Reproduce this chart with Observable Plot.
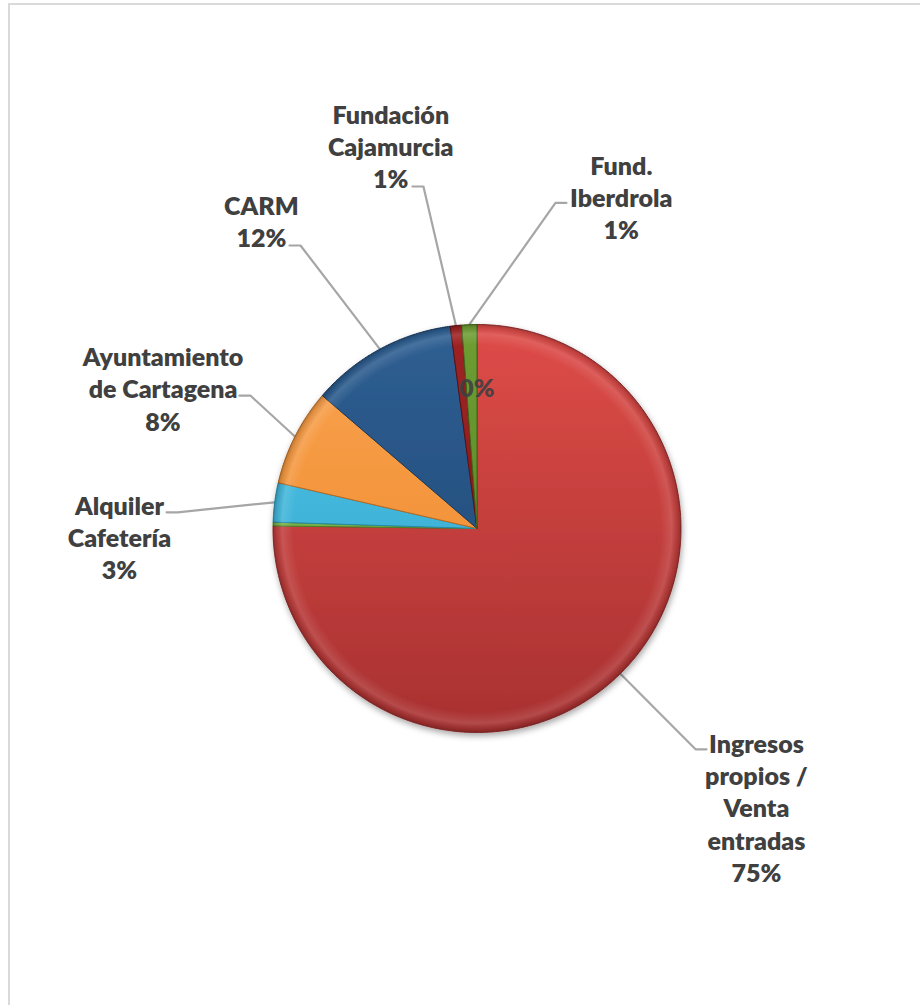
<!DOCTYPE html>
<html><head><meta charset="utf-8">
<script src="https://cdn.jsdelivr.net/npm/d3@7"></script>
<script src="https://cdn.jsdelivr.net/npm/@observablehq/plot@0.6"></script>
<style>
html,body{margin:0;padding:0;background:#fff;overflow:hidden;width:920px;height:1005px}
#frame{position:absolute;left:8px;top:3px;width:1000px;height:1100px;border:2px solid #dadada;box-sizing:border-box}
#chart{position:absolute;left:0;top:0}
</style></head><body><div id="frame"></div><div id="chart"></div>
<script>
// ---- data (clockwise from 12 o'clock) ----
const categories = ["Ingresos propios / Venta entradas", "", "Alquiler Cafetería", "Ayuntamiento de Cartagena", "CARM", "Fundación Cajamurcia", "Fund. Iberdrola"];
const labelText = ["Ingresos\npropios /\nVenta\nentradas", "", "Alquiler\nCafetería", "Ayuntamiento\nde Cartagena", "CARM", "Fundación\nCajamurcia", "Fund.\nIberdrola"];
const shares = [75.2, 0.3, 3.1, 7.7, 11.6, 0.9, 1.2];

// ---- style / layout (not data) ----
const topColors = ["#de4c48", "#8cc65a", "#52c6ea", "#fba451", "#2f5f93", "#9e2424", "#6f9e34"];
const bottomColors = ["#a83131", "#5f9a33", "#2ea2c6", "#e98424", "#1b446f", "#7a1414", "#4f7a1e"];
const edgeColors = ["#8f2a2a", "#4d7d28", "#2689a8", "#b9691f", "#173a60", "#5e1010", "#3f6418"];
// label centre and leader elbow in polar form: [angle° clockwise from north, distance in radii]
const labelPolar = [[134.9, 1.934], [0, 0.686], [268.7, 1.753], [294.1, 1.686], [325.0, 1.843], [347.3, 1.923], [23.5, 1.774]];
const elbowPolar = [[135.3, 1.523], null, [273.1, 1.470], [300.4, 1.288], [328.05, 1.635], [351.1, 1.697], [13.55, 1.642]];
const tailSide = [1, 0, -1, -1, -1, -1, 1];

const W = 920, H = 1005, CX = 476.5, CY = 528, R = 204;

const total = d3.sum(shares);
const rad = a => a * Math.PI / 180;
const polar = (a, r) => ({x: r * Math.sin(rad(a)), y: r * Math.cos(rad(a))});

// slice polygons
const slicePts = [];
const mids = [];
let acc = 0;
shares.forEach((v, i) => {
  const a0 = acc / total * 360, a1 = (acc + v) / total * 360;
  acc += v;
  mids.push((a0 + a1) / 2);
  const n = Math.max(2, Math.ceil((a1 - a0) / 0.5));
  slicePts.push({i, ...polar(0, 0), fill: `url(#g${i})`, stroke: edgeColors[i]});
  for (let k = 0; k <= n; k++) slicePts.push({i, ...polar(a0 + (a1 - a0) * k / n, 1), fill: `url(#g${i})`, stroke: edgeColors[i]});
  slicePts.push({i, ...polar(0, 0), fill: `url(#g${i})`, stroke: edgeColors[i]});
});

// labels
const labels = shares.map((v, i) => {
  const pct = Math.round(v / total * 100) + "%";
  const p = polar(labelPolar[i][0], labelPolar[i][1]);
  return {i, x: p.x, y: p.y, text: labelText[i] ? labelText[i] + "\n" + pct : pct, inner: !labelText[i]};
});

// leaders
const leaderPts = [];
shares.forEach((v, i) => {
  if (!elbowPolar[i]) return;
  const rim = polar(mids[i], 1.0);
  const e = polar(elbowPolar[i][0], elbowPolar[i][1]);
  leaderPts.push({i, ...rim}, {i, ...e}, {i, x: e.x + tailSide[i] * 11 / R, y: e.y});
});

const font = "Lato, 'Open Sans', sans-serif";
const chart = Plot.plot({
  width: W, height: H,
  margin: 0,
  x: {domain: [-CX / R, (W - CX) / R], axis: null},
  y: {domain: [-(H - CY) / R, CY / R], axis: null},
  color: {type: "identity"},
  marks: [
    Plot.line(leaderPts, {x: "x", y: "y", z: "i", stroke: "#a6a6a6", strokeWidth: 2.2, curve: "linear"}),
    Plot.line(slicePts, {x: "x", y: "y", z: "i", fill: "fill", stroke: "stroke", strokeWidth: 1, strokeLinejoin: "round", curve: "linear"}),
    Plot.line(slicePts, {x: "x", y: "y", z: "i", fill: "url(#bevel)", stroke: "none", curve: "linear"}),
    Plot.text(labels.filter(d => !d.inner), {x: "x", y: "y", text: "text", fontSize: 25, fontWeight: 800, fontFamily: font, fill: "#404040", lineHeight: 1.29, textAnchor: "middle", lineAnchor: "middle"}),
    Plot.text(labels.filter(d => d.inner), {x: "x", y: "y", text: "text", fontSize: 25, fontWeight: 800, fontFamily: font, fill: "#3f3f3f", fillOpacity: 0.9, textAnchor: "middle", lineAnchor: "middle"})
  ]
});

// gradients and shadow (styling only)
const svg = d3.select(chart);
const defs = svg.insert("defs", ":first-child");
topColors.forEach((c, i) => {
  const g = defs.append("linearGradient").attr("id", `g${i}`)
    .attr("gradientUnits", "userSpaceOnUse")
    .attr("x1", CX).attr("y1", CY - R).attr("x2", CX).attr("y2", CY + R);
  g.append("stop").attr("offset", "0%").attr("stop-color", c);
  g.append("stop").attr("offset", "100%").attr("stop-color", bottomColors[i]);
});
const bev = defs.append("radialGradient").attr("id", "bevel").attr("gradientUnits", "userSpaceOnUse")
  .attr("cx", CX).attr("cy", CY).attr("r", R).attr("fx", CX).attr("fy", CY);
[[0, "#fff", 0], [0.9, "#fff", 0], [0.955, "#fff", 0.12], [0.985, "#000", 0.1], [1, "#000", 0.25]]
  .forEach(([o, c, a]) => bev.append("stop").attr("offset", o).attr("stop-color", c).attr("stop-opacity", a));
const f = defs.append("filter").attr("id", "shadow").attr("x", "-20%").attr("y", "-20%").attr("width", "140%").attr("height", "140%");
f.append("feDropShadow").attr("dx", 1).attr("dy", 3).attr("stdDeviation", 3).attr("flood-color", "#000").attr("flood-opacity", 0.35);
svg.selectAll("g[aria-label='line']").filter((d, k) => k === 1).attr("filter", "url(#shadow)");
svg.style("background", "transparent");

document.getElementById("chart").append(chart);
</script>
</body></html>
